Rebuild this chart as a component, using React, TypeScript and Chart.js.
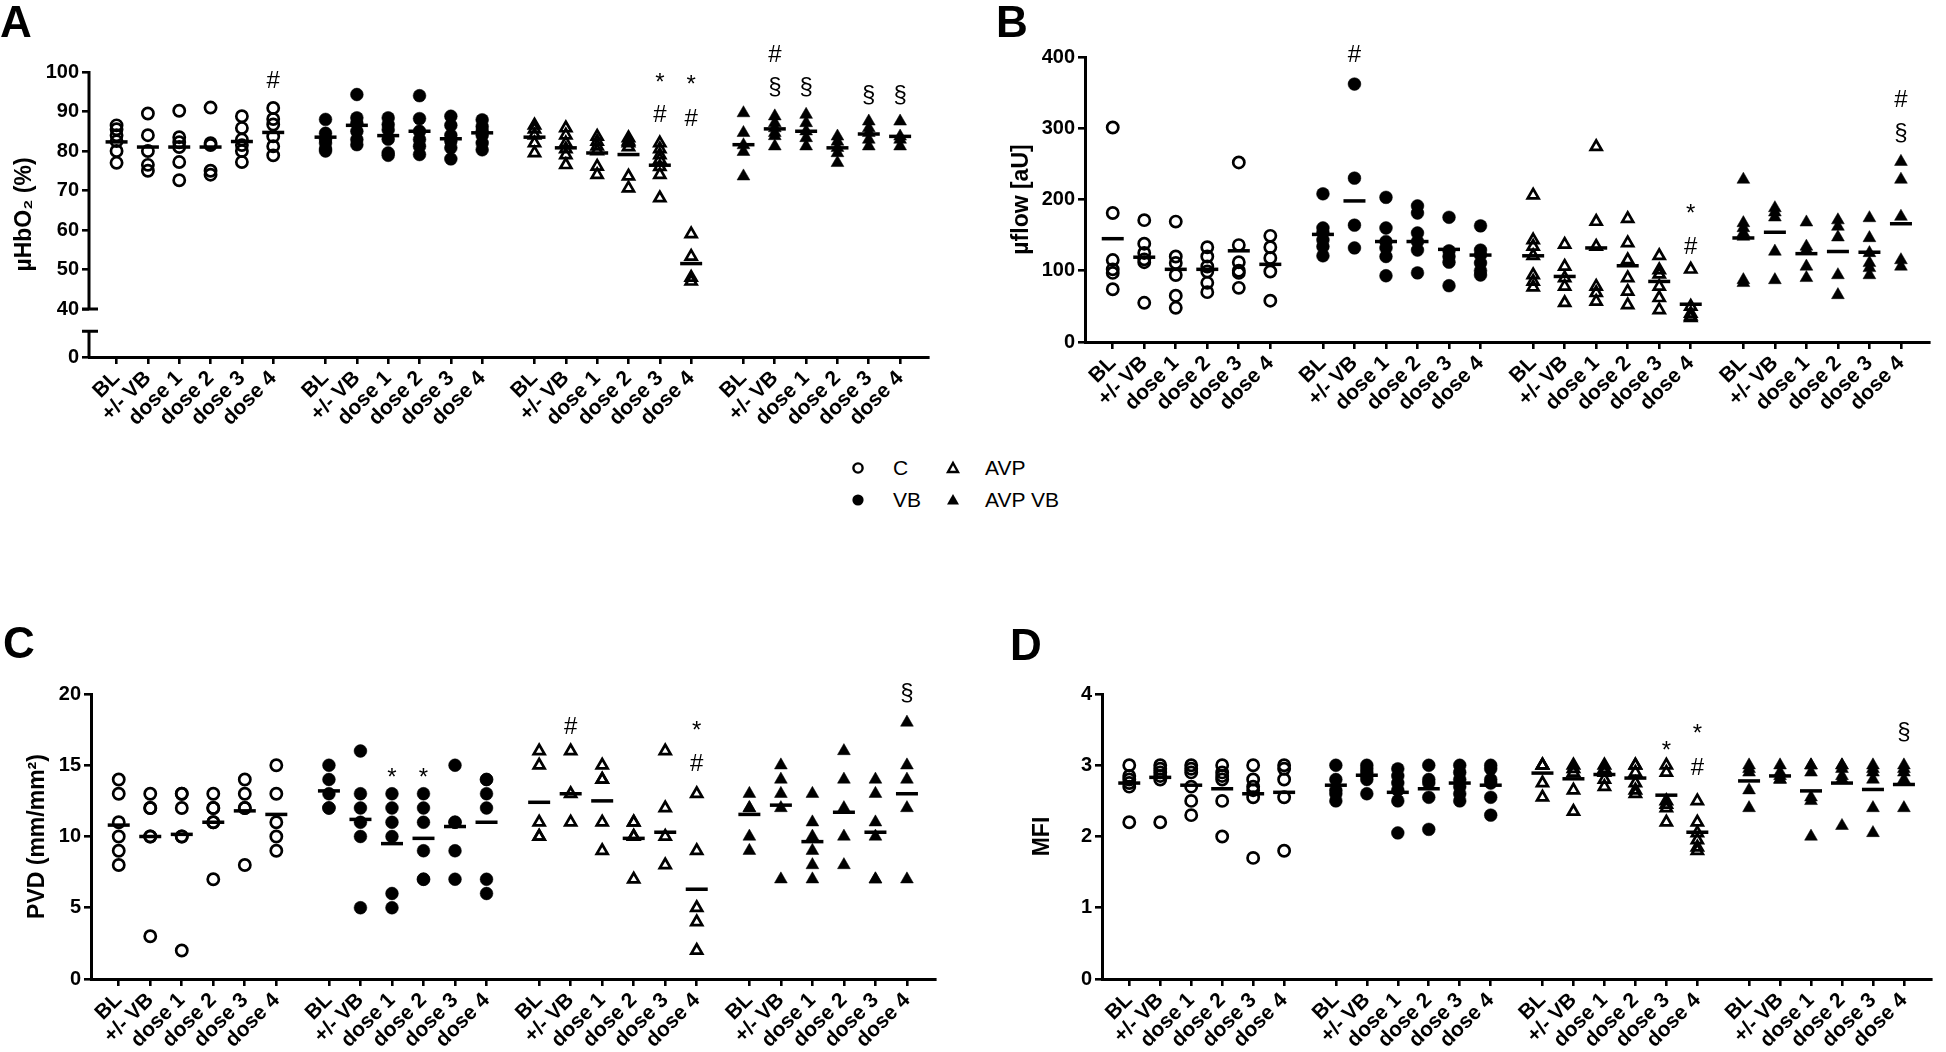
import React, { useEffect, useRef } from 'react';
import { Chart, registerables } from 'chart.js';

Chart.register(...registerables);

const FONT = "'Liberation Sans', Arial, Helvetica, sans-serif";

const CATEGORIES = ['BL', '+/- VB', 'dose 1', 'dose 2', 'dose 3', 'dose 4'];
const GROUPS = ['C', 'VB', 'AVP', 'AVP VB'];
const GROUP_GAP = 6.67;

// ---------- Panel A : µHbO2 (%) ----------
const A_C = [
  [86.5, 85.5, 84, 82.5, 80, 77],
  [89.5, 84, 80, 76.5, 75],
  [90.2, 83.5, 82.2, 81, 77.2, 72.6],
  [91, 82, 81.5, 75, 74],
  [88.8, 85.8, 82.9, 81.5, 80, 77.2],
  [90.9, 88.1, 86.7, 83.7, 81.2, 78.9],
];
const A_C_MEAN = [82.3, 81.0, 81.0, 81.0, 82.4, 84.7];
const A_VB = [
  [88, 84.5, 83, 82, 80.5, 80],
  [94.3, 88.4, 87, 85, 82.9, 81.6],
  [88.4, 86.7, 85.4, 83, 79.5, 78.9],
  [94, 88.2, 85, 82.9, 81.2, 79.1],
  [88.8, 86.5, 84, 82.5, 80.8, 78],
  [87.9, 86.2, 85, 84, 82, 80.3],
];
const A_VB_MEAN = [83.5, 86.5, 83.9, 85.0, 83.1, 84.6];
const A_AVP = [
  [86.5, 85.5, 84, 82, 79.5],
  [85.8, 84, 82, 80.5, 79, 76.5],
  [83.7, 82.4, 81.2, 80, 76.1, 74],
  [83.3, 82.5, 82, 81, 73.6, 70.6],
  [82, 80.5, 79, 77.8, 76, 74, 68.1],
  [59, 53.3, 48, 47],
];
const A_AVP_MEAN = [83.5, 80.8, 79.5, 79.1, 76.4, 51.5];
const A_AVPVB = [
  [89.6, 84.6, 81.5, 79.8, 73.6],
  [88.8, 87.1, 85.8, 84.6, 83.8, 81.2],
  [89.2, 87.1, 85, 83.3, 81.2],
  [83.7, 82.4, 80.8, 79.5, 77],
  [87.5, 85.8, 84.6, 82.9, 81.2],
  [87.5, 83.7, 82.9, 81.2],
];
const A_AVPVB_MEAN = [81.6, 85.6, 85.0, 80.8, 84.3, 83.7];
const A_YTICKS = [0, 40, 50, 60, 70, 80, 90, 100];
const A_BREAK_ZERO = 27.85; // where "0" sits on the broken axis
const A_BREAK_CAP = 34.4;
const A_MARKS = [
  { g: 0, i: 5, t: '#', y: 98 },
  { g: 2, i: 4, t: '*', y: 98.7 },
  { g: 2, i: 4, t: '#', y: 89.6 },
  { g: 2, i: 5, t: '*', y: 98 },
  { g: 2, i: 5, t: '#', y: 88.6 },
  { g: 3, i: 1, t: '#', y: 104.8 },
  { g: 3, i: 1, t: '§', y: 96.2 },
  { g: 3, i: 2, t: '§', y: 96.2 },
  { g: 3, i: 4, t: '§', y: 94.2 },
  { g: 3, i: 5, t: '§', y: 94.2 },
];

// ---------- Panel B : µflow [aU] ----------
const B_C = [
  [301, 181, 115, 102, 97, 74],
  [171, 138, 125, 116, 112, 55],
  [169, 120, 111, 94, 65, 48],
  [133, 120, 106, 99, 83, 70],
  [252, 136, 112, 100, 97, 76],
  [149, 133, 118, 99, 58],
];
const B_C_MEAN = [145, 119, 102, 102, 128, 109];
const B_VB = [
  [208, 160, 153, 143, 134, 121],
  [362, 230, 164, 132],
  [203, 160, 141, 132, 120, 93],
  [191, 181, 153, 141, 129, 97],
  [175, 128, 120, 112, 79],
  [163, 129, 122, 111, 100, 94],
];
const B_VB_MEAN = [151, 198, 141, 141, 130, 122];
const B_AVP = [
  [206, 143, 134, 121, 94, 85, 77],
  [137, 106, 90, 78, 55],
  [274, 169, 134, 78, 69, 57],
  [173, 139, 115, 90, 71, 52],
  [121, 101, 95, 78, 62, 45],
  [102, 50, 40, 36, 34],
];
const B_AVP_MEAN = [121, 92, 132, 107, 85, 53];
const B_AVPVB = [
  [228, 167, 160, 153, 148, 87, 83],
  [188, 182, 175, 127, 87],
  [168, 134, 129, 106, 90],
  [171, 162, 147, 94, 66],
  [174, 146, 125, 111, 104, 94],
  [253, 228, 176, 115, 106],
];
const B_AVPVB_MEAN = [146, 154, 124, 127, 126, 166];
const B_MARKS = [
  { g: 1, i: 1, t: '#', y: 405.6 },
  { g: 2, i: 5, t: '*', y: 188 },
  { g: 2, i: 5, t: '#', y: 136 },
  { g: 3, i: 5, t: '#', y: 342 },
  { g: 3, i: 5, t: '§', y: 293 },
];

// ---------- Panel C : PVD (mm/mm²) ----------
const C_C = [
  [14, 13, 11, 10, 9, 8],
  [13, 12, 12, 10, 10, 3],
  [13, 13, 12, 10, 10, 2],
  [13, 12, 12, 11, 11, 7],
  [14, 13, 12, 12, 8],
  [15, 13, 11, 10, 9],
];
const C_C_MEAN = [10.8, 10, 10.15, 11, 11.8, 11.55];
const C_VB = [
  [15, 14, 13, 12, 12],
  [16, 13, 12, 11, 10, 5],
  [13, 12, 11, 10, 6, 5],
  [13, 12, 11, 9, 7, 7],
  [15, 11, 11, 9, 7],
  [14, 14, 13, 12, 7, 6],
];
const C_VB_MEAN = [13.2, 11.2, 9.5, 9.87, 10.7, 11];
const C_AVP = [
  [16, 15, 11, 10, 10],
  [16, 13, 11],
  [15, 14, 14, 11, 9],
  [11, 11, 10, 10, 7],
  [16, 12, 10, 8],
  [13, 9, 5, 4, 2],
];
const C_AVP_MEAN = [12.4, 13, 12.5, 9.87, 10.3, 6.3];
const C_AVPVB = [
  [13, 12, 12, 10, 9],
  [15, 14, 13, 12, 7],
  [13, 11, 10, 9, 8, 7],
  [16, 14, 12, 10, 8],
  [14, 13, 11, 10, 7, 7],
  [18, 15, 14, 12, 7],
];
const C_AVPVB_MEAN = [11.55, 12.2, 9.64, 11.7, 10.3, 13];
const C_MARKS = [
  { g: 1, i: 2, t: '*', y: 14.5 },
  { g: 1, i: 3, t: '*', y: 14.5 },
  { g: 2, i: 1, t: '#', y: 17.8 },
  { g: 2, i: 5, t: '*', y: 17.8 },
  { g: 2, i: 5, t: '#', y: 15.2 },
  { g: 3, i: 5, t: '§', y: 20.1 },
];

// ---------- Panel D : MFI ----------
const D_C = [
  [3.0, 2.85, 2.8, 2.75, 2.7, 2.2],
  [3.0, 2.95, 2.9, 2.85, 2.8, 2.2],
  [3.0, 2.95, 2.9, 2.7, 2.5, 2.3],
  [3.0, 2.9, 2.85, 2.8, 2.5, 2.0],
  [3.0, 2.8, 2.7, 2.65, 2.55, 1.7],
  [3.0, 2.95, 2.8, 2.55, 1.8],
];
const D_C_MEAN = [2.75, 2.83, 2.72, 2.67, 2.6, 2.62];
const D_VB = [
  [3.0, 2.8, 2.65, 2.6, 2.5],
  [3.0, 2.95, 2.9, 2.85, 2.8, 2.6],
  [2.95, 2.85, 2.75, 2.65, 2.5, 2.05],
  [3.0, 2.8, 2.75, 2.55, 2.1],
  [3.0, 2.9, 2.8, 2.7, 2.6, 2.5],
  [3.0, 2.95, 2.8, 2.75, 2.55, 2.3],
];
const D_VB_MEAN = [2.72, 2.86, 2.62, 2.67, 2.75, 2.72];
const D_AVP = [
  [3.0, 3.0, 3.0, 2.75, 2.55],
  [3.0, 2.95, 2.9, 2.65, 2.35],
  [3.0, 2.95, 2.9, 2.8, 2.7],
  [3.0, 3.0, 2.9, 2.75, 2.65, 2.6],
  [3.0, 2.9, 2.5, 2.45, 2.4, 2.2],
  [2.5, 2.2, 2.05, 1.95, 1.85, 1.8],
];
const D_AVP_MEAN = [2.89, 2.81, 2.87, 2.82, 2.58, 2.06];
const D_AVPVB = [
  [3.0, 2.95, 2.9, 2.65, 2.4],
  [3.0, 2.9, 2.85, 2.8, 2.8],
  [3.0, 3.0, 2.9, 2.55, 2.5, 2.0],
  [3.0, 3.0, 2.95, 2.85, 2.8, 2.15],
  [3.0, 2.95, 2.9, 2.8, 2.4, 2.05],
  [3.0, 2.95, 2.9, 2.8, 2.4],
];
const D_AVPVB_MEAN = [2.78, 2.85, 2.64, 2.75, 2.66, 2.73];
const D_MARKS = [
  { g: 2, i: 4, t: '*', y: 3.28 },
  { g: 2, i: 5, t: '*', y: 3.52 },
  { g: 2, i: 5, t: '#', y: 2.98 },
  { g: 3, i: 5, t: '§', y: 3.47 },
];

// ---------- styles ----------
const GROUP_STYLE: any[] = [
  { shape: 'circle', radius: 5.6, fill: 'rgba(0,0,0,0)', border: 2.7 },
  { shape: 'circle', radius: 6.4, fill: '#000', border: 0.5 },
  { shape: 'triangle', radius: 6.3, fill: 'rgba(0,0,0,0)', border: 2.7 },
  { shape: 'triangle', radius: 7.4, fill: '#000', border: 0.5 },
];

const pos = (g: number, i: number) => g * GROUP_GAP + i;
const TICK_POSITIONS = GROUPS.flatMap((_, g) => CATEGORIES.map((__, i) => pos(g, i)));

type PanelCfg = {
  letter: string;
  letterX: number;
  letterY: number;
  box: { left: number; top: number; w: number; h: number };
  yWidth: number;
  padTop: number;
  padRight: number;
  xHeight: number;
  titlePad: number;
  title: string;
  groups: number[][][];
  means: number[][];
  marks: { g: number; i: number; t: string; y: number }[];
  yMin: number;
  yMax: number;
  yStep?: number;
  broken?: boolean;
};

const PANELS: PanelCfg[] = [
  {
    letter: 'A', letterX: 0, letterY: 37,
    box: { left: 0, top: 0, w: 960, h: 440 },
    yWidth: 89, padTop: 72, padRight: 32, xHeight: 83, titlePad: 11,
    title: 'µHbO₂ (%)',
    groups: [A_C, A_VB, A_AVP, A_AVPVB],
    means: [A_C_MEAN, A_VB_MEAN, A_AVP_MEAN, A_AVPVB_MEAN],
    marks: A_MARKS, yMin: A_BREAK_ZERO, yMax: 100, broken: true,
  },
  {
    letter: 'B', letterX: 36, letterY: 37,
    box: { left: 960, top: 0, w: 986, h: 440 },
    yWidth: 125, padTop: 57, padRight: 17, xHeight: 98, titlePad: 48,
    title: 'µflow [aU]',
    groups: [B_C, B_VB, B_AVP, B_AVPVB],
    means: [B_C_MEAN, B_VB_MEAN, B_AVP_MEAN, B_AVPVB_MEAN],
    marks: B_MARKS, yMin: 0, yMax: 400, yStep: 100,
  },
  {
    letter: 'C', letterX: 3, letterY: 58,
    box: { left: 0, top: 600, w: 960, h: 452 },
    yWidth: 91, padTop: 94, padRight: 25, xHeight: 73, titlePad: 24,
    title: 'PVD (mm/mm²)',
    groups: [C_C, C_VB, C_AVP, C_AVPVB],
    means: [C_C_MEAN, C_VB_MEAN, C_AVP_MEAN, C_AVPVB_MEAN],
    marks: C_MARKS, yMin: 0, yMax: 20, yStep: 5,
  },
  {
    letter: 'D', letterX: 50, letterY: 60,
    box: { left: 960, top: 600, w: 986, h: 452 },
    yWidth: 142, padTop: 94, padRight: 3, xHeight: 73, titlePad: 69,
    title: 'MFI',
    groups: [D_C, D_VB, D_AVP, D_AVPVB],
    means: [D_C_MEAN, D_VB_MEAN, D_AVP_MEAN, D_AVPVB_MEAN],
    marks: D_MARKS, yMin: 0, yMax: 4, yStep: 1,
  },
];

function buildChart(canvas: HTMLCanvasElement, cfg: PanelCfg) {
  const datasets: any[] = [];
  cfg.groups.forEach((cells, g) => {
    const st = GROUP_STYLE[g];
    datasets.push({
      label: GROUPS[g] + ' mean',
      data: cfg.means[g].map((m, i) => ({ x: pos(g, i), y: m })),
      pointStyle: 'line',
      pointRadius: 11,
      borderColor: '#000',
      borderWidth: 3.5,
      showLine: false,
      order: 0,
      clip: false,
    });
    datasets.push({
      label: GROUPS[g],
      data: cells.flatMap((vals, i) => vals.map((v) => ({ x: pos(g, i), y: v }))),
      pointStyle: st.shape,
      pointRadius: st.radius,
      backgroundColor: st.fill,
      borderColor: '#000',
      borderWidth: st.border,
      showLine: false,
      order: 1,
      clip: false,
    });
  });

  const overlay = {
    id: 'overlay' + cfg.letter,
    afterDraw(chart: any) {
      const ctx = chart.ctx;
      const xs = chart.scales.x;
      const ys = chart.scales.y;
      ctx.save();
      ctx.fillStyle = '#000';
      ctx.strokeStyle = '#000';
      ctx.font = `bold 44px ${FONT}`;
      ctx.textAlign = 'left';
      ctx.textBaseline = 'alphabetic';
      ctx.fillText(cfg.letter, cfg.letterX, cfg.letterY);

      ctx.font = `24px ${FONT}`;
      ctx.textAlign = 'center';
      cfg.marks.forEach((m) => {
        const x = xs.getPixelForValue(pos(m.g, m.i));
        const y = ys.getPixelForValue(m.y);
        const mt = ctx.measureText(m.t);
        ctx.fillText(m.t, x, y + (mt.actualBoundingBoxAscent - mt.actualBoundingBoxDescent) / 2);
      });

      if (cfg.broken) {
        const L = chart.chartArea.left;
        const yTop = ys.getPixelForValue(100);
        const y40 = ys.getPixelForValue(40);
        const yCap = ys.getPixelForValue(A_BREAK_CAP);
        const yBot = chart.chartArea.bottom;
        ctx.lineWidth = 3;
        ctx.lineCap = 'butt';
        ctx.beginPath();
        ctx.moveTo(L, yTop - 1);
        ctx.lineTo(L, y40 + 1.5);
        ctx.moveTo(L - 7, y40);
        ctx.lineTo(L + 9, y40);
        ctx.moveTo(L, yCap - 1.5);
        ctx.lineTo(L, yBot);
        ctx.moveTo(L - 7, yCap);
        ctx.lineTo(L + 9, yCap);
        ctx.stroke();
      }
      ctx.restore();
    },
  };

  const yTicks: any = {
    color: '#000',
    font: { family: FONT, size: 20, weight: 'bold' },
    padding: 3,
  };
  if (cfg.yStep) yTicks.stepSize = cfg.yStep;
  if (cfg.broken) {
    yTicks.callback = (v: number) => (v === A_BREAK_ZERO ? '0' : String(v));
  }

  const yScale: any = {
    type: 'linear',
    min: cfg.yMin,
    max: cfg.yMax,
    border: { display: !cfg.broken, color: '#000', width: 3 },
    grid: { display: true, drawOnChartArea: false, drawTicks: true, tickLength: 7, color: '#000', lineWidth: 2.6 },
    ticks: yTicks,
    title: {
      display: true,
      text: cfg.title,
      color: '#000',
      font: { family: FONT, size: 23, weight: 'bold' },
      padding: { top: cfg.titlePad, bottom: 0 },
    },
    afterFit: (s: any) => {
      s.width = cfg.yWidth;
    },
  };
  if (cfg.broken) {
    yScale.afterBuildTicks = (s: any) => {
      s.ticks = A_YTICKS.map((v) => ({ value: v === 0 ? A_BREAK_ZERO : v }));
    };
  }

  return new Chart(canvas, {
    type: 'scatter',
    data: { datasets },
    options: {
      responsive: false,
      animation: false,
      events: [],
      layout: { padding: { top: cfg.padTop, right: cfg.padRight, left: 0, bottom: 0 } },
      plugins: { legend: { display: false }, tooltip: { enabled: false }, title: { display: false } },
      scales: {
        x: {
          type: 'linear',
          min: -0.88,
          max: 25.9,
          border: { display: true, color: '#000', width: 3 },
          grid: { display: true, drawOnChartArea: false, drawTicks: true, tickLength: 7, color: '#000', lineWidth: 2.6 },
          afterBuildTicks: (s: any) => {
            s.ticks = TICK_POSITIONS.map((v) => ({ value: v }));
          },
          afterFit: (s: any) => {
            s.height = cfg.xHeight;
          },
          ticks: {
            autoSkip: false,
            minRotation: 45,
            maxRotation: 45,
            padding: 2,
            color: '#000',
            font: { family: FONT, size: 21, weight: 'bold' },
            callback: (_v: any, idx: number) => CATEGORIES[idx % CATEGORIES.length],
          },
        },
        y: yScale,
      },
    } as any,
    plugins: [overlay],
  });
}

function Panel({ cfg }: { cfg: PanelCfg }) {
  const ref = useRef<HTMLCanvasElement | null>(null);
  useEffect(() => {
    if (!ref.current) return;
    const chart = buildChart(ref.current, cfg);
    return () => chart.destroy();
  }, [cfg]);
  return (
    <canvas
      ref={ref}
      width={cfg.box.w}
      height={cfg.box.h}
      style={{ position: 'absolute', left: cfg.box.left, top: cfg.box.top, width: cfg.box.w, height: cfg.box.h }}
    />
  );
}

function Marker({ kind }: { kind: number }) {
  const s = 16;
  let el: any;
  if (kind === 0) el = <circle cx={8} cy={8} r={4.6} fill="none" stroke="#000" strokeWidth={2.4} />;
  else if (kind === 1) el = <circle cx={8} cy={8} r={5.6} fill="#000" />;
  else if (kind === 2) el = <polygon points="8,3 13,12 3,12" fill="none" stroke="#000" strokeWidth={2.4} strokeLinejoin="miter" />;
  else el = <polygon points="8,2 14,12.5 2,12.5" fill="#000" />;
  return (
    <svg width={s} height={s} style={{ display: 'block' }}>
      {el}
    </svg>
  );
}

const LEGEND_ITEMS = [
  { kind: 0, label: GROUPS[0], mx: 858, tx: 893, y: 468 },
  { kind: 2, label: GROUPS[2], mx: 953, tx: 985, y: 468 },
  { kind: 1, label: GROUPS[1], mx: 858, tx: 893, y: 500 },
  { kind: 3, label: GROUPS[3], mx: 953, tx: 985, y: 500 },
];

export default function App() {
  return (
    <div style={{ position: 'absolute', left: 0, top: 0, width: 1946, height: 1052, background: '#fff', overflow: 'hidden' }}>
      {PANELS.map((p) => (
        <Panel key={p.letter} cfg={p} />
      ))}
      {LEGEND_ITEMS.map((it) => (
        <React.Fragment key={it.label}>
          <div style={{ position: 'absolute', left: it.mx - 8, top: it.y - 8 }}>
            <Marker kind={it.kind} />
          </div>
          <div
            style={{
              position: 'absolute',
              left: it.tx,
              top: it.y - 12,
              fontFamily: FONT,
              fontSize: 21,
              lineHeight: '24px',
              color: '#000',
              whiteSpace: 'nowrap',
            }}
          >
            {it.label}
          </div>
        </React.Fragment>
      ))}
    </div>
  );
}
